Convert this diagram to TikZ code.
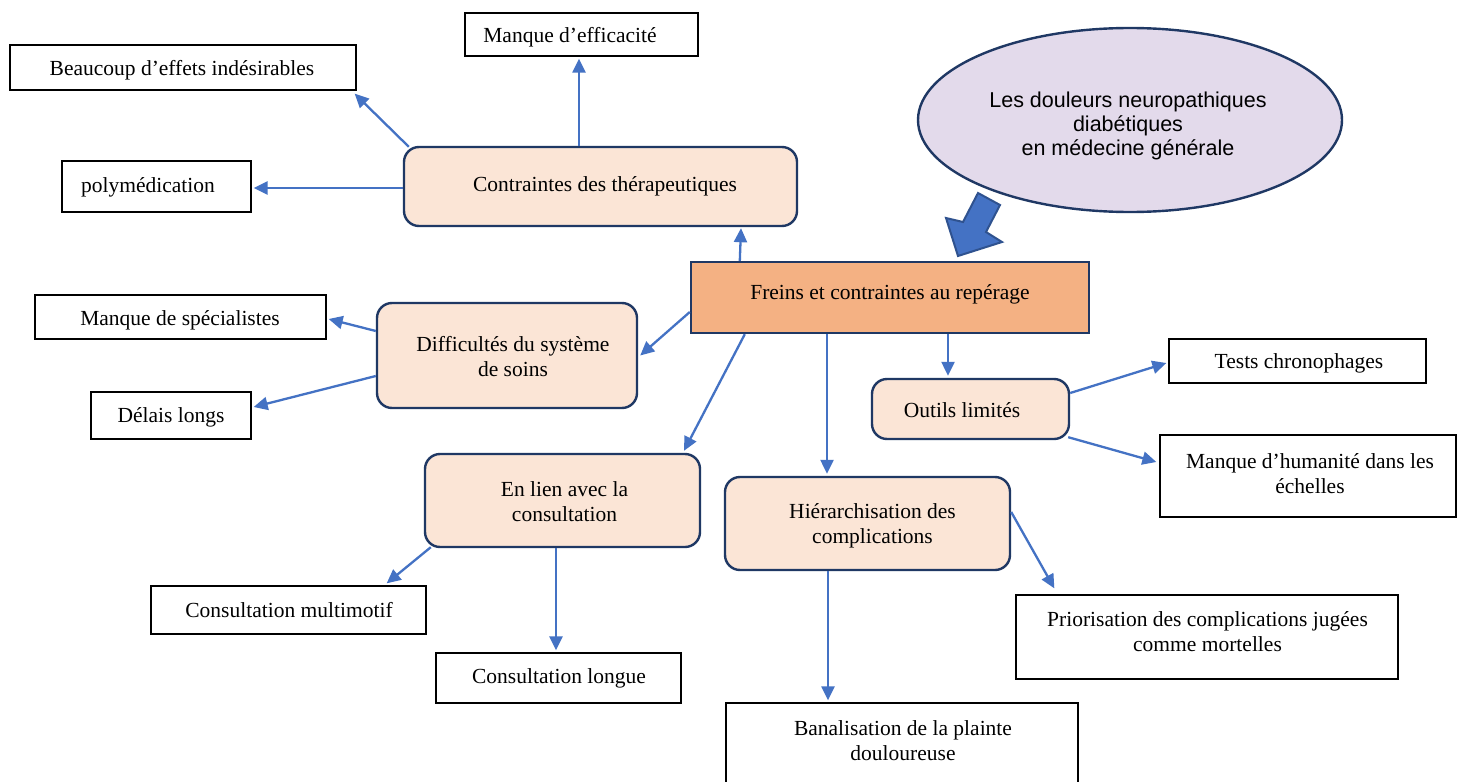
\documentclass[tikz,border=0pt]{standalone}
\usepackage{fontspec}
\setmainfont{Liberation Serif}
\newfontfamily\arialfont{Liberation Sans}
\usetikzlibrary{arrows.meta,calc,shapes.geometric}
\definecolor{arrblue}{HTML}{4472C4}
\definecolor{navy}{HTML}{1F3864}
\definecolor{peach}{HTML}{FBE5D6}
\definecolor{orangebox}{HTML}{F4B183}
\definecolor{lav}{HTML}{E3DAEB}
\definecolor{bigarrowborder}{HTML}{2F528F}
\tikzset{
  wbox/.style={draw=black, line width=1.3pt, fill=white, inner sep=0pt},
  rbox/.style={draw=navy, line width=2.4pt, fill=peach, rounded corners=15pt, inner sep=0pt},
  cbox/.style={draw=navy, line width=2.4pt, fill=orangebox, inner sep=0pt},
  txt/.style={font=\fontsize{21.5}{25}\selectfont, align=center, inner sep=0pt},
  arr/.style={draw=arrblue, line width=2.3pt, -{Triangle[length=14pt,width=13pt]}},
}
\begin{document}
\begin{tikzpicture}[x=1pt,y=-1pt]
\clip (0,0) rectangle (1463,781);
\fill[white] (0,0) rectangle (1463,781);

% boxes
\node[wbox, minimum width=233, minimum height=43] (me) at (581.5,34.5) {};
\node[wbox, minimum width=346, minimum height=45] (be) at (183,67.5) {};
\node[wbox, minimum width=189, minimum height=51] (po) at (156.5,186.5) {};
\node[rbox, minimum width=393, minimum height=79] (ct) at (600.5,186.5) {};
\node[cbox, minimum width=398, minimum height=71] (fr) at (890,297.5) {};
\node[rbox, minimum width=260, minimum height=105] (di) at (507,355.5) {};
\node[wbox, minimum width=291, minimum height=44] (ms) at (180.5,317) {};
\node[wbox, minimum width=160, minimum height=47] (dl) at (171,415.5) {};
\node[rbox, minimum width=197, minimum height=60] (ou) at (970.5,409) {};
\node[wbox, minimum width=257, minimum height=44] (tc) at (1297.5,361) {};
\node[wbox, minimum width=296, minimum height=82] (mh) at (1308,476) {};
\node[rbox, minimum width=275, minimum height=93] (el) at (562.5,500.5) {};
\node[wbox, minimum width=275, minimum height=48] (cm) at (288.5,610) {};
\node[wbox, minimum width=245, minimum height=50] (cl) at (558.5,678) {};
\node[rbox, minimum width=285, minimum height=93] (hi) at (867.5,523.5) {};
\node[wbox, minimum width=382, minimum height=84] (pr) at (1207,637) {};
\node[wbox, minimum width=352, minimum height=100] (ba) at (902,753) {};
\node[ellipse, draw=navy, line width=2.4pt, fill=lav, minimum width=424, minimum height=184, inner sep=0pt] (ell) at (1130,120) {};

% texts
\node[txt] (met) at (570,37.5) {Manque d’efficacité};
\node[txt] (bet) at (182,70.5) {Beaucoup d’effets indésirables};
\node[txt] (pot) at (148,187.5) {polymédication};
\node[txt] (ctt) at (605,186.5) {Contraintes des thérapeutiques};
\node[txt] (frt) at (890,294.5) {Freins et contraintes au repérage};
\node[txt] (dit) at (513,357) {Difficultés du système\\de soins};
\node[txt] (mst) at (180,320.5) {Manque de spécialistes};
\node[txt] (dlt) at (171,417.5) {Délais longs};
\node[txt] (out) at (962,410.5) {Outils limités};
\node[txt] (tct) at (1299,363.5) {Tests chronophages};
\node[txt] (mht) at (1310,474) {Manque d’humanité dans les\\échelles};
\node[txt] (elt) at (564.5,501.5) {En lien avec la\\consultation};
\node[txt] (cmt) at (289,610.5) {Consultation multimotif};
\node[txt] (clt) at (559,678.5) {Consultation longue};
\node[txt] (hit) at (872.5,526) {Hiérarchisation des\\complications};
\node[txt] (prt) at (1207.5,632) {Priorisation des complications jugées\\comme mortelles};
\node[txt] (bat) at (903,741) {Banalisation de la plainte\\douloureuse};
\node[font=\arialfont\fontsize{21.5}{24}\selectfont, align=center, inner sep=0pt] (ellt) at (1128,125.5) {Les douleurs neuropathiques\\diabétiques\\en médecine générale};

% big block arrow
\filldraw[fill=arrblue, draw=bigarrowborder, line width=2pt, line join=miter]
  (978,193) -- (1000,205) -- (986,232) -- (1002,242) -- (958,256) -- (946,218) -- (963,222) -- cycle;

% connectors
\draw[arr] ($(ct.north)+(-21.5,0)$) -- ($(me.south)+(-2.5,2)$);
\draw[arr] ($(ct.north west)+(6,1)$) -- ($(be.south east)+(-2,3)$);
\draw[arr] ($(ct.west)+(0,1.5)$) -- ($(po.east)+(2,1.5)$);
\draw[arr] ($(fr.north west)+(50,0)$) -- ($(ct.south)+(140.5,1)$);
\draw[arr] ($(fr.west)+(0,14.5)$) -- ($(di.east)+(2,0)$);
\draw[arr] ($(di.west)+(0,-24.5)$) -- ($(ms.east)+(2,2)$);
\draw[arr] ($(di.west)+(0,20.5)$) -- ($(dl.east)+(2,-8.5)$);
\draw[arr] ($(fr.south west)+(55,0)$) -- ($(el.north)+(121.5,-2)$);
\draw[arr] ($(fr.south)+(-63,0)$) -- ($(hi.north)+(-40.5,-2)$);
\draw[arr] ($(fr.south)+(58,0)$) -- ($(ou.north)+(-22.5,-2)$);
\draw[arr] ($(ou.east)+(0,-16)$) -- ($(tc.west)+(-2,2)$);
\draw[arr] ($(ou.south east)+(-2,-3)$) -- ($(mh.west)+(-3,-14)$);
\draw[arr] ($(el.south west)+(7,-1)$) -- ($(cm.north east)+(-40,-2)$);
\draw[arr] ($(el.south)+(-6.5,0)$) -- ($(cl.north)+(-2.5,-2)$);
\draw[arr] ($(hi.east)+(0,-11.5)$) -- ($(pr.north west)+(39,-6)$);
\draw[arr] ($(hi.south)+(-39.5,0)$) -- ($(ba.north)+(-74,-2)$);
\end{tikzpicture}
\end{document}
